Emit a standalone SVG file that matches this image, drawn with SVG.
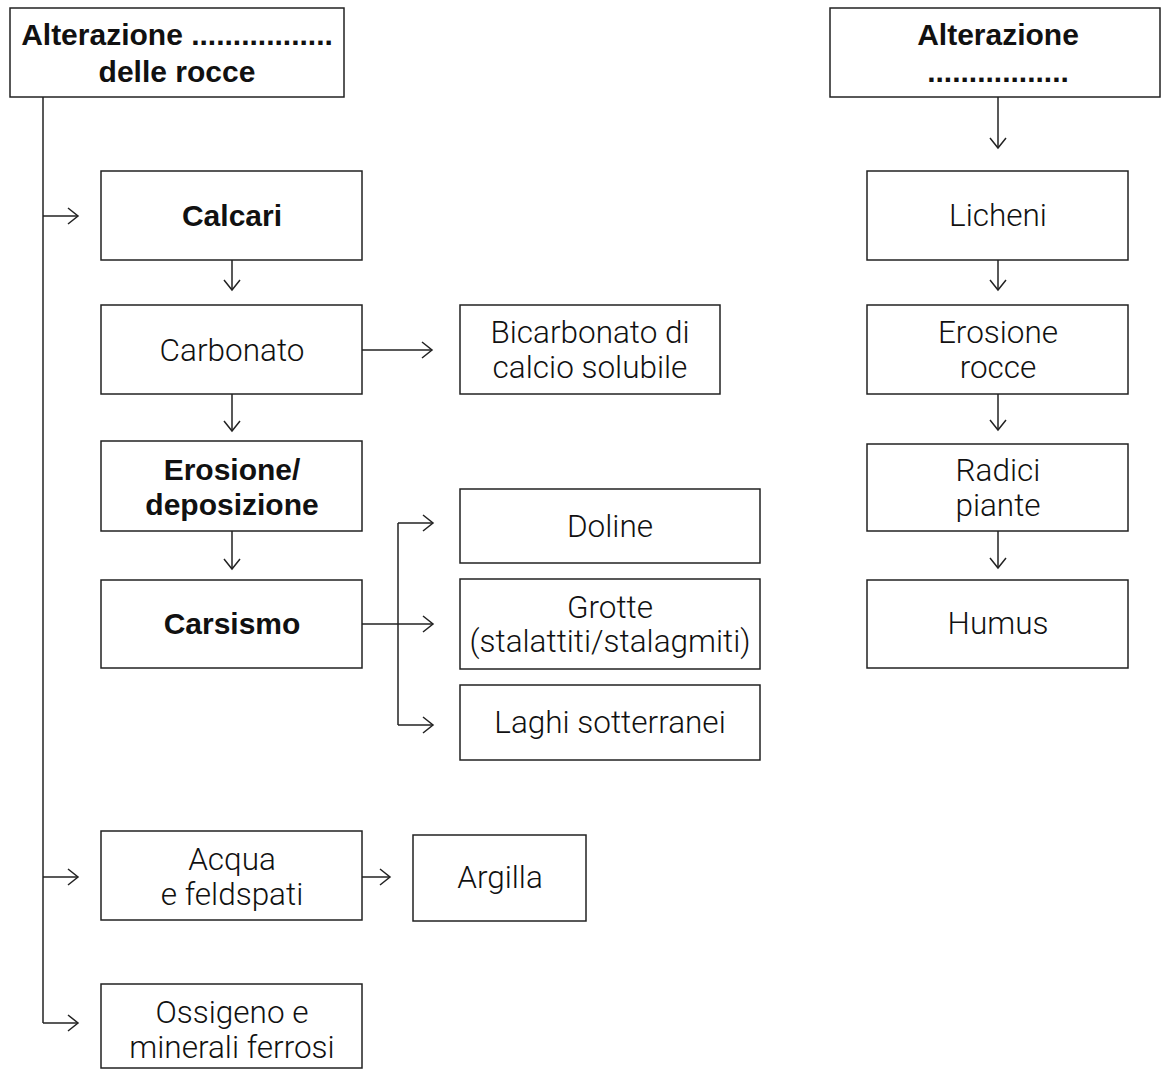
<svg xmlns="http://www.w3.org/2000/svg" width="1161" height="1069" viewBox="0 0 1161 1069">
<defs>
<style>
.box{fill:#fff;stroke:#222;stroke-width:1.5}
.t{font-family:Roboto,"Liberation Sans",sans-serif;font-weight:300;font-size:31.5px;fill:#111;text-anchor:middle}
.b{font-family:"Liberation Sans",Arial,sans-serif;font-weight:bold;font-size:30px;fill:#111;text-anchor:middle}
.c{fill:none;stroke:#222;stroke-width:1.5}
</style>
<marker id="ah" markerUnits="userSpaceOnUse" markerWidth="14" markerHeight="20" viewBox="0 0 14 20" refX="12" refY="10" orient="auto">
<path d="M2,2 L12,10 L2,18" fill="none" stroke="#222" stroke-width="1.5"/>
</marker>
</defs>
<rect width="1161" height="1069" fill="#fff"/>
<g id="connectors">
<path class="c" d="M43,97 V1023"/>
<path class="c" d="M43,216 H78" marker-end="url(#ah)"/>
<path class="c" d="M43,877 H78" marker-end="url(#ah)"/>
<path class="c" d="M43,1023 H78" marker-end="url(#ah)"/>
<path class="c" d="M232,260 V290" marker-end="url(#ah)"/>
<path class="c" d="M232,394 V431" marker-end="url(#ah)"/>
<path class="c" d="M232,531 V569" marker-end="url(#ah)"/>
<path class="c" d="M362,350 H432" marker-end="url(#ah)"/>
<path class="c" d="M362,624 H433" marker-end="url(#ah)"/>
<path class="c" d="M398,523 V725"/>
<path class="c" d="M398,523 H433" marker-end="url(#ah)"/>
<path class="c" d="M398,725 H433" marker-end="url(#ah)"/>
<path class="c" d="M362,877 H390" marker-end="url(#ah)"/>
<path class="c" d="M998,97 V148" marker-end="url(#ah)"/>
<path class="c" d="M998,260 V290" marker-end="url(#ah)"/>
<path class="c" d="M998,394 V430" marker-end="url(#ah)"/>
<path class="c" d="M998,531 V568" marker-end="url(#ah)"/>
</g>
<g id="n-alt-fisica">
<rect class="box" x="10" y="8" width="334" height="89"/>
<text class="b" x="177" y="45">Alterazione .................</text>
<text class="b" x="177" y="82">delle rocce</text>
</g>
<g id="n-calcari">
<rect class="box" x="101" y="171" width="261" height="89"/>
<text class="b" x="232" y="226">Calcari</text>
</g>
<g id="n-carbonato">
<rect class="box" x="101" y="305" width="261" height="89"/>
<text class="t" x="232" y="361">Carbonato</text>
</g>
<g id="n-bicarbonato">
<rect class="box" x="460" y="305" width="260" height="89"/>
<text class="t" x="590" y="343">Bicarbonato di</text>
<text class="t" x="590" y="378">calcio solubile</text>
</g>
<g id="n-erosione">
<rect class="box" x="101" y="441" width="261" height="90"/>
<text class="b" x="232" y="480">Erosione/</text>
<text class="b" x="232" y="515">deposizione</text>
</g>
<g id="n-carsismo">
<rect class="box" x="101" y="580" width="261" height="88"/>
<text class="b" x="232" y="634">Carsismo</text>
</g>
<g id="n-doline">
<rect class="box" x="460" y="489" width="300" height="74"/>
<text class="t" x="610" y="537">Doline</text>
</g>
<g id="n-grotte">
<rect class="box" x="460" y="579" width="300" height="90"/>
<text class="t" x="610" y="618">Grotte</text>
<text class="t" x="610" y="652">(stalattiti/stalagmiti)</text>
</g>
<g id="n-laghi">
<rect class="box" x="460" y="685" width="300" height="75"/>
<text class="t" x="610" y="733">Laghi sotterranei</text>
</g>
<g id="n-acqua">
<rect class="box" x="101" y="831" width="261" height="89"/>
<text class="t" x="232" y="870">Acqua</text>
<text class="t" x="232" y="905">e feldspati</text>
</g>
<g id="n-argilla">
<rect class="box" x="413" y="835" width="173" height="86"/>
<text class="t" x="500" y="888">Argilla</text>
</g>
<g id="n-ossigeno">
<rect class="box" x="101" y="984" width="261" height="84"/>
<text class="t" x="232" y="1023">Ossigeno e</text>
<text class="t" x="232" y="1058">minerali ferrosi</text>
</g>
<g id="n-alt-bio">
<rect class="box" x="830" y="8" width="330" height="89"/>
<text class="b" x="998" y="45">Alterazione</text>
<text class="b" x="998" y="82">.................</text>
</g>
<g id="n-licheni">
<rect class="box" x="867" y="171" width="261" height="89"/>
<text class="t" x="998" y="226">Licheni</text>
</g>
<g id="n-erosione-rocce">
<rect class="box" x="867" y="305" width="261" height="89"/>
<text class="t" x="998" y="343">Erosione</text>
<text class="t" x="998" y="378">rocce</text>
</g>
<g id="n-radici">
<rect class="box" x="867" y="444" width="261" height="87"/>
<text class="t" x="998" y="481">Radici</text>
<text class="t" x="998" y="516">piante</text>
</g>
<g id="n-humus">
<rect class="box" x="867" y="580" width="261" height="88"/>
<text class="t" x="998" y="634">Humus</text>
</g>
</svg>
